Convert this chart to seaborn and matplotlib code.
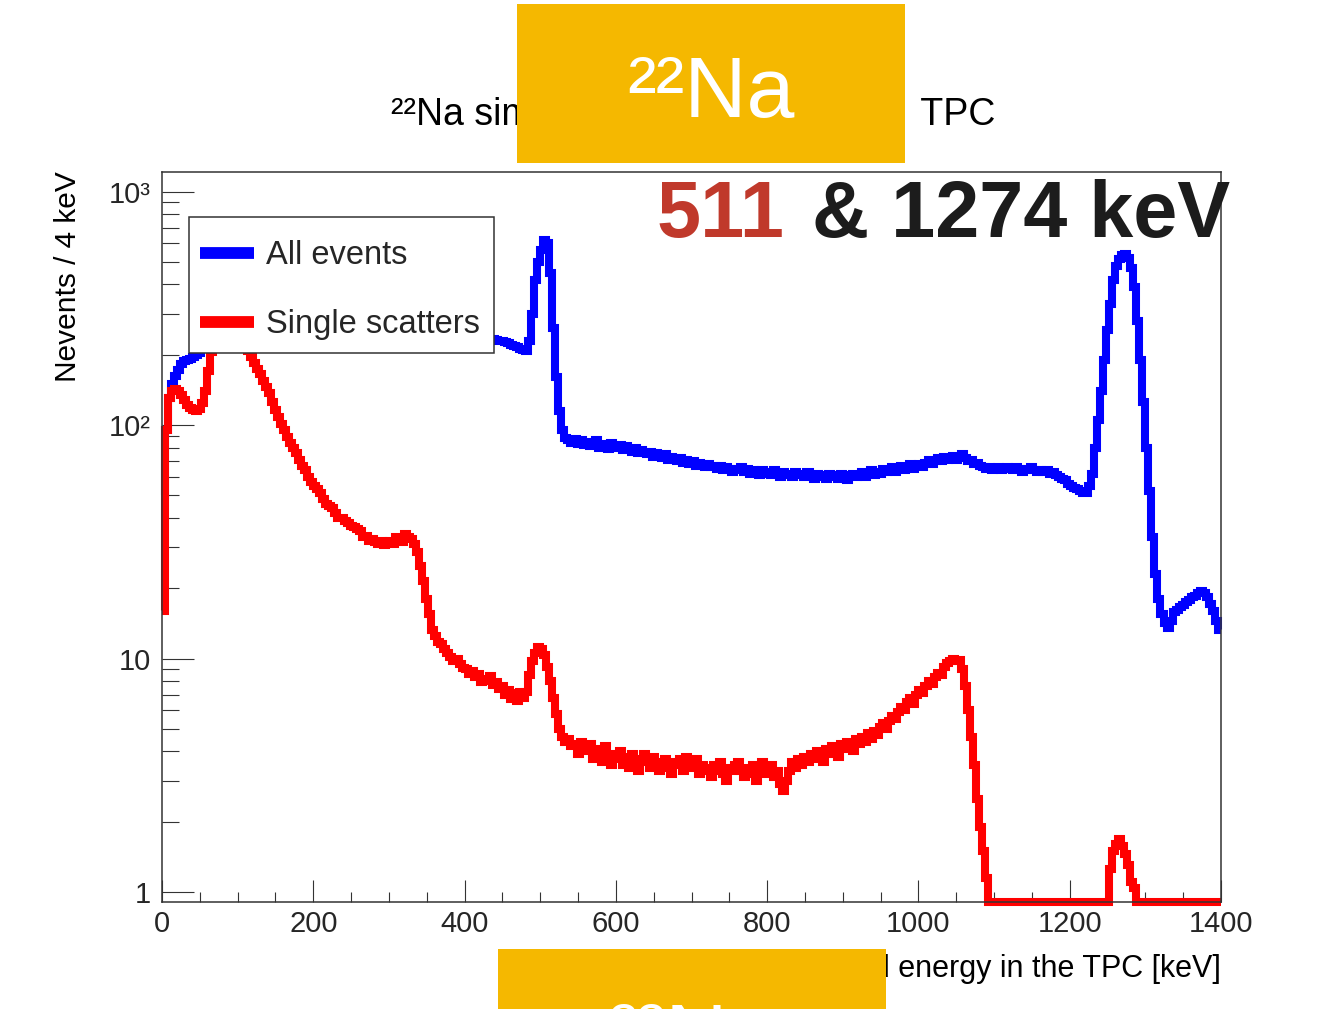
import numpy as np
import pandas as pd
import matplotlib
matplotlib.use("Agg")
import matplotlib.pyplot as plt
import seaborn as sns
from matplotlib.lines import Line2D
from matplotlib.patches import Rectangle
from matplotlib.ticker import LogLocator, NullFormatter

# ---------------- data (counts per 4 keV bin, 0-1400 keV) ----------------
bin_width_kev = 4
energy_edges = list(range(0, 1404, bin_width_kev))  # 351 edges -> 350 bins

all_events = [
    50, 95, 130, 150, 162, 172, 182, 188, 190, 192,
    195, 199, 204, 212, 222, 240, 262, 285, 305, 320,
    335, 345, 350, 348, 342, 335, 328, 320, 312, 305,
    300, 296, 293, 290, 288, 286, 283, 281, 280, 278,
    277, 276, 274, 273, 272, 270, 269, 268, 267, 266,
    265, 264, 263, 262, 261, 260, 259, 258, 257, 256,
    255, 254, 254, 253, 252, 251, 251, 250, 249, 249,
    248, 247, 247, 246, 245, 245, 244, 244, 243, 243,
    244, 245, 244, 242, 240, 239, 239, 238, 238, 237,
    237, 236, 236, 235, 235, 234, 234, 233, 233, 233,
    232, 232, 232, 231, 231, 231, 230, 231, 232, 233,
    232, 230, 228, 226, 224, 221, 218, 215, 212, 209,
    207, 230, 300, 420, 500, 560, 620, 600, 450, 260,
    160, 115, 95, 88, 86, 84, 87, 83, 86, 82,
    85, 81, 84, 86, 80, 83, 82, 79, 84, 81,
    80, 82, 78, 81, 79, 77, 80, 76, 78, 77,
    75, 77, 73, 76, 74, 72, 75, 71, 73, 72,
    70, 72, 69, 71, 68, 70, 67, 69, 68, 66,
    68, 66, 67, 65, 67, 64, 66, 65, 63, 65,
    64, 66, 63, 65, 62, 64, 63, 61, 64, 62,
    63, 61, 64, 62, 60, 63, 61, 62, 60, 63,
    61, 62, 60, 63, 61, 59, 62, 60, 61, 59,
    62, 60, 61, 59, 62, 60, 58, 61, 62, 60,
    61, 63, 60, 62, 64, 61, 63, 62, 65, 63,
    64, 66, 63, 65, 67, 64, 66, 68, 65, 67,
    68, 66, 69, 71, 68, 70, 72, 70, 73, 71,
    72, 74, 71, 73, 75, 72, 70, 71, 68, 69,
    67, 66, 65, 66, 64, 65, 66, 64, 65, 66,
    65, 64, 66, 65, 63, 64, 65, 66, 64, 63,
    64, 63, 64, 62, 63, 61, 60, 59, 58, 56,
    55, 54, 53, 52, 51, 51, 55, 62, 80, 105,
    140, 190, 255, 330, 420, 480, 515, 535, 540, 520,
    470, 390, 280, 190, 125, 80, 52, 33, 23, 18,
    15.5, 14.2, 13.5, 14.5, 15.8, 16.2, 16.6, 17.0, 17.4, 17.8,
    18.3, 18.6, 19.0, 19.4, 19.0, 18.3, 17.2, 16.0, 14.5, 13.2,
]

single_scatters = [
    16, 95, 130, 140, 142, 140, 135, 128, 122, 118,
    116, 115, 117, 124, 140, 170, 205, 245, 275, 300,
    312, 320, 322, 316, 302, 282, 255, 228, 207, 195,
    185, 174, 165, 155, 146, 137, 126, 116, 108, 101,
    95, 89, 84, 80, 76, 71, 67, 64, 60, 57,
    55, 53, 51, 48, 46, 45, 44, 42, 40, 40,
    39, 38, 37, 36.5, 36, 35, 33, 33.5, 32, 32.5,
    31.5, 31, 32, 30.5, 31.5, 32, 31, 33, 32, 31.5,
    34, 33, 32.5, 31, 28.5, 25, 21.5, 18, 15.5, 13.3,
    12.5, 11.8, 11.5, 11, 10.6, 10.2, 9.8, 10, 9.5, 9.1,
    9.0, 8.6, 8.8, 8.3, 8.6, 7.9, 8.2, 8.0, 8.4, 7.7,
    7.9, 7.4, 7.6, 7.0, 7.3, 6.7, 7.1, 6.6, 7.2, 6.8,
    7.2, 8.5, 9.8, 10.6, 11.2, 11.0, 10.4, 9.2, 8.0, 6.8,
    5.8, 5.0, 4.6, 4.4, 4.5, 4.2, 4.3, 3.9, 4.4, 4.1,
    4.0, 4.3, 3.7, 4.1, 3.9, 3.6, 4.2, 3.8, 3.5, 3.9,
    3.7, 4.0, 3.5, 3.8, 3.4, 3.9, 3.6, 3.3, 3.7, 3.9,
    3.6, 3.4, 3.8, 3.5, 3.3, 3.6, 3.7, 3.4, 3.2, 3.6,
    3.5, 3.7, 3.3, 3.8, 3.6, 3.4, 3.7, 3.2, 3.5, 3.3,
    3.4, 3.1, 3.5, 3.3, 3.6, 3.2, 3.0, 3.4, 3.3, 3.5,
    3.6, 3.3, 3.1, 3.4, 3.2, 3.5, 3.0, 3.3, 3.6, 3.2,
    3.4, 3.5, 3.1, 3.3, 2.9, 2.7, 3.0, 3.3, 3.6, 3.4,
    3.7, 3.5, 3.8, 3.6, 3.9, 3.7, 4.0, 3.8, 3.6, 4.1,
    3.9, 4.2, 4.0, 3.8, 4.3, 4.1, 4.4, 4.2, 4.0, 4.5,
    4.3, 4.6, 4.4, 4.8, 4.5, 4.9, 4.7, 5.1, 5.3, 5.0,
    5.4, 5.7, 5.5, 5.9, 6.2, 6.0, 6.5, 6.8, 6.4, 7.0,
    7.3, 7.1, 7.6, 8.0, 7.8, 8.3, 8.7, 8.5, 9.2, 9.6,
    9.8, 10.0, 9.8, 9.9, 9.0, 7.6, 6.0, 4.6, 3.5, 2.5,
    1.9, 1.5, 1.15, 0, 0, 0, 0, 0, 0, 0,
    0, 0, 0, 0, 0, 0, 0, 0, 0, 0,
    0, 0, 0, 0, 0, 0, 0, 0, 0, 0,
    0, 0, 0, 0, 0, 0, 0, 0, 0, 0,
    0, 0, 0, 1.25, 1.5, 1.6, 1.68, 1.58, 1.45, 1.3,
    1.1, 1.04, 0, 0, 0, 0, 0, 0, 0, 0,
    0, 0, 0, 0, 0, 0, 0, 0, 0, 0,
    0, 0, 0, 0, 0, 0, 0, 0, 0, 0,
]

series_labels = ["All events", "Single scatters"]
series_colors = ["#0000FF", "#FF0000"]
x_ticks = [0, 200, 400, 600, 800, 1000, 1200, 1400]
y_ticks = [1, 10, 100, 1000]
y_tick_labels = ["1", "10", "10²", "10³"]

title_text = "²²Na simulated spectrum in the\u2002TPC"
x_label = "Deposited energy in the TPC [keV]"
y_label = "Nevents / 4 keV"
badge_text = "²²Na"
peak_text_red = "511"
peak_text_dark = "& 1274 keV"

# ---------------- style ----------------
sns.set_theme(style="white")
plt.rcParams["font.family"] = ["Liberation Sans", "DejaVu Sans"]

W, H = 1317, 1009
YMIN, YMAX = 0.906, 1219

frames = []
for lab, vals in zip(series_labels, [all_events, single_scatters]):
    v = np.asarray(vals, dtype=float)
    v = np.where(v > 0, v, YMIN)          # empty bins sit on the axis floor (ROOT style)
    v = np.append(v, v[-1])
    frames.append(pd.DataFrame({"energy": energy_edges, "count": v, "series": lab}))
df = pd.concat(frames, ignore_index=True)

fig = plt.figure(figsize=(W / 100, H / 100), dpi=100)
fig.patch.set_facecolor("white")
ax = fig.add_axes([162 / W, 1 - 902 / H, 1059 / W, 730.5 / H])
ax.set_yscale("log")

sns.lineplot(
    data=df, x="energy", y="count", hue="series",
    hue_order=series_labels,
    palette=dict(zip(series_labels, series_colors)),
    drawstyle="steps-post", linewidth=5.8, estimator=None,
    legend=False, ax=ax, clip_on=False,
    solid_joinstyle="miter", solid_capstyle="butt",
)

ax.set_xlim(0, 1400)
ax.set_ylim(YMIN, YMAX)
ax.set_xticks(x_ticks)
ax.set_xticklabels([str(t) for t in x_ticks])
ax.set_xticks(np.arange(0, 1401, 50), minor=True)
ax.set_yticks(y_ticks)
ax.set_yticklabels(y_tick_labels)
ax.yaxis.set_minor_locator(LogLocator(base=10, subs=np.arange(2, 10)))
ax.yaxis.set_minor_formatter(NullFormatter())

tick_col = "#333333"
ax.tick_params(axis="x", which="major", direction="in", length=15.8, width=0.8,
               color=tick_col, labelsize=21, pad=6, bottom=True, top=False)
ax.tick_params(axis="x", which="minor", direction="in", length=7.2, width=0.8,
               color=tick_col, bottom=True, top=False)
ax.tick_params(axis="y", which="major", direction="in", length=23, width=0.8,
               color=tick_col, labelsize=21, pad=8, left=True, right=False)
ax.tick_params(axis="y", which="minor", direction="in", length=12.2, width=0.8,
               color=tick_col, left=True, right=False)
for s in ax.spines.values():
    s.set_visible(True)
    s.set_color("#333333")
    s.set_linewidth(1.1)

ax.set_xlabel(x_label, fontsize=22, loc="right", color="black")
ax.xaxis.set_label_coords(1.0, -(954 - 902) / 730.5)
ax.set_ylabel(y_label, fontsize=21.5, loc="top", color="black")
ax.yaxis.set_label_coords(-(162 - 82) / 1059, 1.0)

# legend: frame drawn as its own box, entries placed inside it
ax.add_patch(Rectangle((189 / W, 1 - 353 / H), (494 - 189) / W, (353 - 217) / H,
                       transform=fig.transFigure, facecolor="white",
                       edgecolor="#333333", linewidth=1.1, zorder=4, clip_on=False))
handles = [Line2D([], [], color=c, lw=8.5, solid_capstyle="butt") for c in series_colors]
leg = ax.legend(handles, series_labels, loc="upper left",
                bbox_to_anchor=(189 / W, 1 - 229 / H), bbox_transform=fig.transFigure,
                fontsize=23.5, frameon=False,
                borderpad=0.35, handlelength=1.63, handletextpad=0.37,
                labelspacing=1.15, borderaxespad=0)
leg.set_zorder(6)

# title (partly hidden by the badge)
fig.text(995 / W, 1 - 125 / H, title_text, ha="right", va="baseline",
         fontsize=27.0, color="black", zorder=1)

# yellow badges
badge_col = "#F5B800"
fig.add_artist(Rectangle((517 / W, 1 - 163 / H), 388 / W, 159 / H,
                         transform=fig.transFigure, facecolor=badge_col,
                         edgecolor="none", zorder=5))
fig.text(711 / W, 1 - 117 / H, badge_text, ha="center", va="baseline",
         fontsize=62, color="white", zorder=6)
fig.add_artist(Rectangle((498 / W, 0), 388 / W, 60 / H,
                         transform=fig.transFigure, facecolor=badge_col,
                         edgecolor="none", zorder=5))
fig.text(692 / W, 1 - 1064 / H, badge_text, ha="center", va="baseline",
         fontsize=62, color="white", zorder=6)

# peak energy annotation
fig.text(657 / W, 1 - 237 / H, peak_text_red, ha="left", va="baseline",
         fontsize=57, fontweight="bold", color="#C0392B", zorder=6)
fig.text(1230 / W, 1 - 237 / H, peak_text_dark, ha="right", va="baseline",
         fontsize=57, fontweight="bold", color="#1C1C1C", zorder=6)

fig.savefig("out.png", dpi=100, facecolor="white")
